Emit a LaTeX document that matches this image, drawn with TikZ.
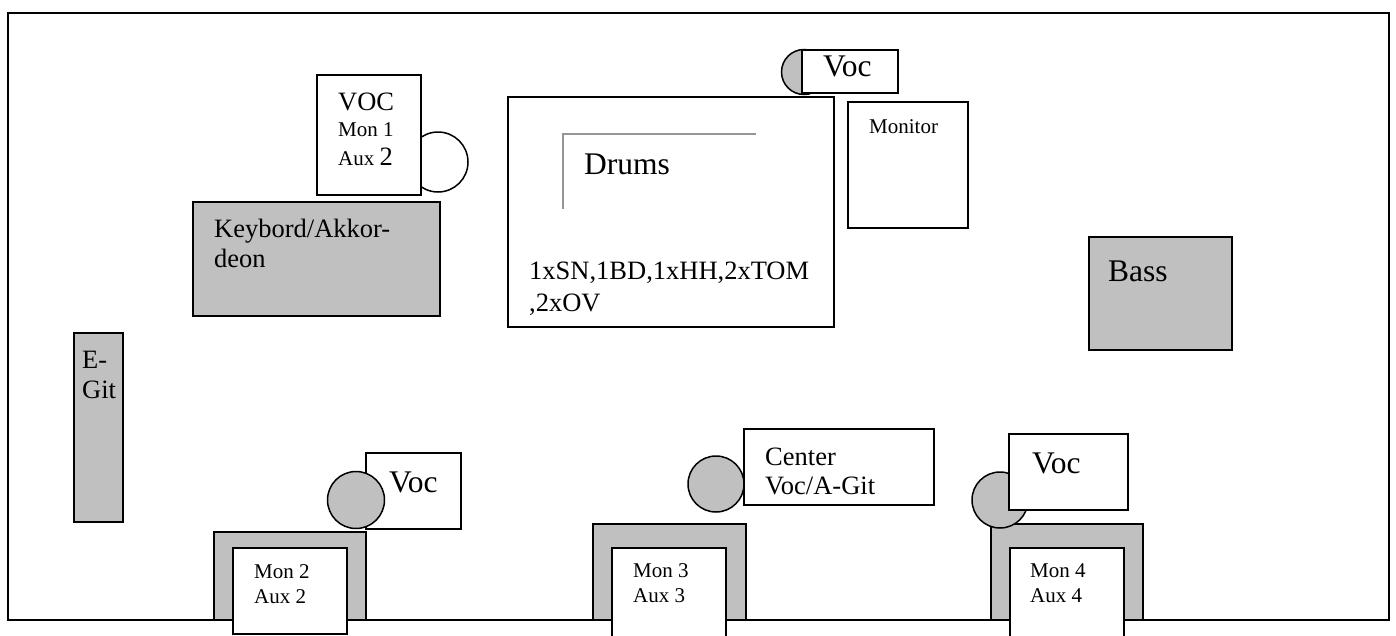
\documentclass[tikz,border=0pt]{standalone}
\usepackage{fontspec}
\setmainfont{Liberation Serif}
\definecolor{stagegray}{RGB}{192,192,192}
\definecolor{linegray}{RGB}{150,150,150}
\begin{document}
\begin{tikzpicture}[x=1pt,y=-1pt,
  box/.style={draw=black,line width=1.5pt,fill=white},
  gbox/.style={draw=black,line width=1.5pt,fill=stagegray},
  mic/.style={draw=black,line width=1.5pt,fill=stagegray},
  big/.style={font=\fontsize{26.5}{30}\selectfont,anchor=base west,inner sep=0pt},
  huge/.style={font=\fontsize{31.5}{36}\selectfont,anchor=base west,inner sep=0pt},
  small/.style={font=\fontsize{21}{25}\selectfont,anchor=base west,inner sep=0pt}]
\useasboundingbox (0,0) rectangle (1396,635);
% frame
\draw[line width=2.5pt] (8,13) rectangle (1389,620);
% VOC Mon 1
\draw[line width=1.5pt] (438,162) circle[radius=30pt];
\draw[box] (317,75) rectangle (421,195);
\node[big] (voc1) at (338,110) {VOC};
\node[small] (mon1) at (338,136) {Mon 1};
\node[small] (aux1) at (338,165) {Aux {\fontsize{26.5}{30}\selectfont 2}};
% Keyboard
\draw[gbox] (193,202) rectangle (440,316);
\node[big] (kbd1) at (214,237) {Keybord/Akkor-};
\node[big] (kbd2) at (214,267) {deon};
% Drums
\draw[box] (508,97) rectangle (834,327);
\draw[linegray,line width=2pt] (756,134) -- (563,134) -- (563,209);
\node[huge] (drums) at (584,174) {Drums};
\node[big] (kit1) at (529,279) {1xSN,1BD,1xHH,2xTOM};
\node[big] (kit2) at (529,311) {,2xOV};
% top Voc
\draw[mic] (804,72) circle[radius=22.5pt];
\draw[box] (802,50) rectangle (898,93);
\node[huge] (voctop) at (823,76) {Voc};
% Monitor
\draw[box] (848,102) rectangle (968,228);
\node[small] (monitor) at (869,133) {Monitor};
% Bass
\draw[gbox] (1089,237) rectangle (1232,350);
\node[huge] (bass) at (1108,281) {Bass};
% E-Git
\draw[gbox] (74,333) rectangle (123,522);
\node[big] (egit1) at (82,368) {E-};
\node[big] (egit2) at (82,398) {Git};
% bottom left group
\draw[box] (366,453) rectangle (461,529);
\node[huge] (vocl) at (389,492) {Voc};
\draw[gbox] (214,532) rectangle (366,620);
\draw[box] (233,548) rectangle (347,634);
\draw[mic] (356,500) circle[radius=28.5pt];
\node[small] (mon2) at (254,578) {Mon 2};
\node[small] (aux2) at (254,603) {Aux 2};
% center group
\draw[box] (744,429) rectangle (934,505);
\node[big] (center1) at (765,465) {Center};
\node[big] (center2) at (765,494) {Voc/A-Git};
\draw[mic] (716,484) circle[radius=28pt];
\draw[gbox] (593,524) rectangle (746,620);
\draw[box] (612,548) rectangle (726,645);
\node[small] (mon3) at (633,577) {Mon 3};
\node[small] (aux3) at (633,602) {Aux 3};
% right group
\draw[gbox] (991,524) rectangle (1143,620);
\draw[box] (1010,548) rectangle (1124,645);
\node[small] (mon4) at (1030,577) {Mon 4};
\node[small] (aux4) at (1030,602) {Aux 4};
\draw[mic] (1000,500) circle[radius=28pt];
\draw[box] (1009,434) rectangle (1128,510);
\node[huge] (vocr) at (1032,473) {Voc};
\end{tikzpicture}
\end{document}
